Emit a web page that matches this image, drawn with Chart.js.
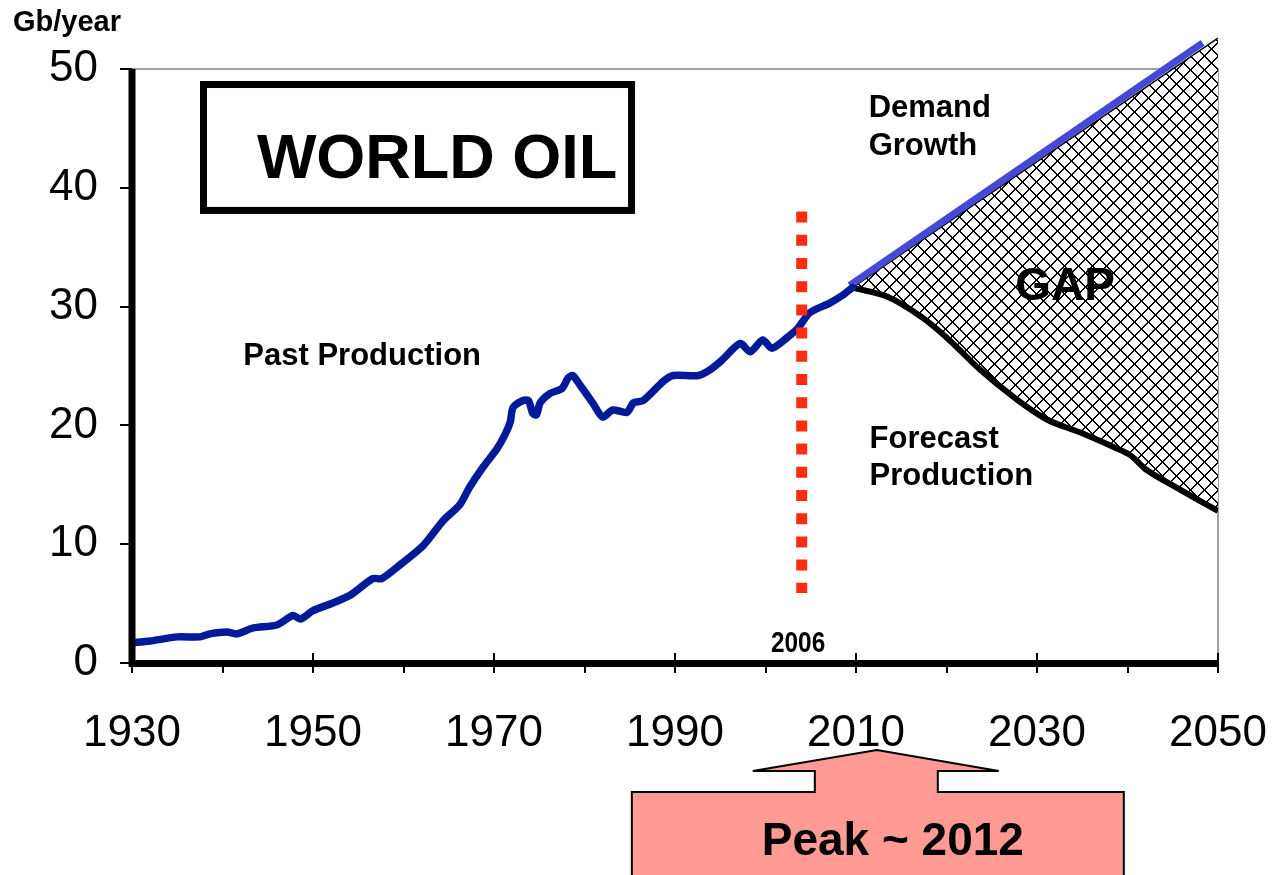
<!DOCTYPE html>
<html lang="en">
<head>
  <meta charset="UTF-8">
  <title>World Oil - Past and Forecast Production</title>
  <script src="https://cdn.jsdelivr.net/npm/chart.js"></script>
  <style>
    html, body { margin: 0; padding: 0; background: #fff; }
    #wrap { width: 1276px; height: 875px; }
  </style>
</head>
<body>
  <div id="wrap"><canvas id="oilChart" width="1276" height="875"></canvas></div>

  <script>
    // Past production (Gb/year)
    const pastYears = [1930, 1932, 1935, 1937.5, 1938.6, 1940.5, 1941.6, 1943.4, 1946, 1947.8, 1948.6, 1950,
      1952.2, 1954.1, 1956.6, 1957.6, 1959.6, 1962.2, 1964.4, 1966.2, 1967.3, 1968.8, 1970.3, 1971.2,
      1971.8, 1972.1, 1973.2, 1973.8, 1974.3, 1974.7, 1975.1, 1976.2, 1977.5, 1978.2, 1978.7, 1979.5,
      1980.9, 1982.0, 1983.1, 1984.7, 1985.4, 1986.5, 1988.7, 1989.8, 1992.6, 1993.9, 1995.2, 1997.2,
      1998.3, 1999.7, 2000.7, 2002.4, 2003.6, 2004.9, 2007.1, 2008.6, 2009.6];
    const pastValues = [1.7, 1.85, 2.2, 2.2, 2.45, 2.6, 2.45, 2.95, 3.2, 4.0, 3.7, 4.4,
      5.05, 5.7, 7.1, 7.1, 8.25, 9.9, 12.0, 13.3, 14.8, 16.5, 18.0, 19.2,
      20.3, 21.5, 22.1, 22.1, 21.0, 20.9, 21.9, 22.7, 23.1, 24.0, 24.2, 23.4,
      21.9, 20.7, 21.3, 21.1, 21.9, 22.1, 23.7, 24.2, 24.2, 24.7, 25.5, 26.9,
      26.2, 27.2, 26.5, 27.4, 28.2, 29.5, 30.3, 31.0, 31.6];

    // Forecast production after the peak
    const forecastYears = [2009.6, 2013.6, 2017.3, 2020.3, 2023.7, 2027.4, 2031.1, 2034.8, 2038.4, 2040.3, 2042.2, 2045.8, 2050];
    const forecastValues = [31.6, 30.8, 29.1, 27.2, 24.7, 22.4, 20.5, 19.4, 18.2, 17.5, 16.2, 14.6, 12.8];

    // Demand growth line and the upper edge of the gap
    const demandYears = [2009.3, 2048.3];
    const demandValues = [31.8, 52.2];
    const gapTopYears = [2009.6, 2050];
    const gapTopValues = [31.6, 52.6];
    const gapEdgeYears = [2050, 2050];
    const gapEdgeValues = [52.6, 12.8];

    // 2006 marker
    const markerYears = [2004, 2004];
    const markerValues = [38, 5.9];
    const peakYear = 2012.3;

    const xTickLabels = ['1930', '1950', '1970', '1990', '2010', '2030', '2050'];
    const yTickValues = [0, 10, 20, 30, 40, 50];

    const pts = (xs, ys) => xs.map((x, i) => ({ x: x, y: ys[i] }));

    Chart.defaults.font.family = '"Liberation Sans", Arial, Helvetica, sans-serif';
    Chart.defaults.color = '#000';

    // cross hatch for the gap
    function makeHatch(size) {
      const c = document.createElement('canvas');
      c.width = c.height = size;
      const g = c.getContext('2d');
      g.fillStyle = '#fff';
      g.fillRect(0, 0, size, size);
      g.fillStyle = '#000';
      for (let i = 0; i < size; i++) {
        g.fillRect(i, i, 1, 1);
        g.fillRect((i + 1) % size, i, 1, 1);
        g.fillRect(size - 1 - i, i, 1, 1);
        g.fillRect((size - i) % size, i, 1, 1);
      }
      return g.createPattern(c, 'repeat');
    }

    // drop the label padding chart.js adds so the plot area is exactly the layout box
    function noScalePadding(s) {
      s.paddingLeft = s.paddingRight = s.paddingTop = s.paddingBottom = 0;
    }

    // gray frame at 50 and 2050, under the data
    const frame = {
      id: 'frame',
      beforeDatasetsDraw(chart) {
        const { ctx, chartArea, scales: { x, y } } = chart;
        const top = y.getPixelForValue(50);
        const right = x.getPixelForValue(2050);
        ctx.save();
        ctx.strokeStyle = '#a0a0a0';
        ctx.lineWidth = 2;
        ctx.beginPath();
        ctx.moveTo(chartArea.left, top);
        ctx.lineTo(right, top);
        ctx.lineTo(right, chartArea.bottom);
        ctx.stroke();
        ctx.restore();
      }
    };

    // texts, boxes, y axis line, peak arrow
    const annotations = {
      id: 'annotations',
      afterDraw(chart) {
        const { ctx, chartArea, scales: { x, y } } = chart;
        const px = v => x.getPixelForValue(v);
        const py = v => y.getPixelForValue(v);
        ctx.save();

        // y axis line from 0 to 50
        ctx.strokeStyle = '#000';
        ctx.lineWidth = 7;
        ctx.beginPath();
        ctx.moveTo(chartArea.left, py(50));
        ctx.lineTo(chartArea.left, chartArea.bottom + 3.5);
        ctx.stroke();

        // major x ticks also cross above the axis
        ctx.lineWidth = 2;
        xTickLabels.forEach(t => {
          const p = px(Number(t));
          ctx.beginPath();
          ctx.moveTo(p, chartArea.bottom - 10);
          ctx.lineTo(p, chartArea.bottom);
          ctx.stroke();
        });

        ctx.fillStyle = '#000';
        ctx.textBaseline = 'alphabetic';
        ctx.textAlign = 'left';

        ctx.font = 'bold 29px "Liberation Sans", Arial, sans-serif';
        ctx.fillText('Gb/year', 13, 31);

        // WORLD OIL box
        ctx.lineWidth = 7;
        const bx1 = px(1937.9), bx2 = px(1985.2), by1 = py(48.7), by2 = py(38.1);
        ctx.strokeRect(bx1, by1, bx2 - bx1, by2 - by1);
        ctx.font = 'bold 63px "Liberation Sans", Arial, sans-serif';
        ctx.fillText('WORLD OIL', px(1943.8), py(40.8));

        ctx.font = 'bold 31px "Liberation Sans", Arial, sans-serif';
        ctx.fillText('Past Production', px(1942.3), py(25.1));
        ctx.fillText('Demand', px(2011.4), py(46.0));
        ctx.fillText('Growth', px(2011.4), py(42.8));
        ctx.fillText('Forecast', px(2011.5), py(18.1));
        ctx.fillText('Production', px(2011.5), py(15.0));

        ctx.font = 'bold 46px "Liberation Sans", Arial, sans-serif';
        ctx.fillText('GAP', px(2027.6), py(30.6));

        // condensed "2006"
        ctx.save();
        ctx.textAlign = 'center';
        ctx.font = 'bold 29px "Liberation Sans", Arial, sans-serif';
        ctx.translate(px(2003.6), py(0.93));
        ctx.scale(0.84, 1);
        ctx.fillText('2006', 0, 0);
        ctx.restore();

        // Peak arrow and box
        const tx = px(peakYear);
        const tipY = 750, headY = 771, boxY = 792, botY = 880;
        ctx.beginPath();
        ctx.moveTo(tx, tipY);
        ctx.lineTo(tx + 122, headY);
        ctx.lineTo(tx + 61, headY);
        ctx.lineTo(tx + 61, boxY);
        ctx.lineTo(tx + 247, boxY);
        ctx.lineTo(tx + 247, botY);
        ctx.lineTo(tx - 245, botY);
        ctx.lineTo(tx - 245, boxY);
        ctx.lineTo(tx - 62, boxY);
        ctx.lineTo(tx - 62, headY);
        ctx.lineTo(tx - 124, headY);
        ctx.closePath();
        ctx.fillStyle = '#ff9a94';
        ctx.fill();
        ctx.lineWidth = 2;
        ctx.strokeStyle = '#000';
        ctx.stroke();

        ctx.fillStyle = '#000';
        ctx.textAlign = 'center';
        ctx.font = 'bold 46px "Liberation Sans", Arial, sans-serif';
        ctx.fillText('Peak ~ 2012', tx + 16, 855);

        ctx.restore();
      }
    };

    const ctx = document.getElementById('oilChart').getContext('2d');
    new Chart(ctx, {
      type: 'line',
      data: {
        datasets: [
          {
            label: '2006',
            data: pts(markerYears, markerValues),
            borderColor: '#ff2d0f',
            borderWidth: 11,
            borderDash: [11, 12.2],
            borderCapStyle: 'butt',
            pointRadius: 0,
            fill: false
          },
          {
            label: 'Past Production',
            data: pts(pastYears, pastValues),
            borderColor: '#001a99',
            borderWidth: 7.5,
            borderJoinStyle: 'round',
            borderCapStyle: 'round',
            tension: 0.25,
            pointRadius: 0,
            fill: false
          },
          {
            label: 'Forecast Production',
            data: pts(forecastYears, forecastValues),
            borderColor: '#000',
            borderWidth: 6,
            borderJoinStyle: 'round',
            tension: 0.35,
            pointRadius: 0,
            fill: false
          },
          {
            label: 'Demand Growth',
            data: pts(demandYears, demandValues),
            borderColor: '#4649d6',
            borderWidth: 7,
            borderCapStyle: 'butt',
            pointRadius: 0,
            fill: false
          },
          {
            label: 'Gap',
            data: pts(gapTopYears, gapTopValues),
            borderColor: '#000',
            borderWidth: 1.5,
            backgroundColor: makeHatch(14),
            pointRadius: 0,
            fill: 2
          },
          {
            label: 'Gap edge',
            data: pts(gapEdgeYears, gapEdgeValues),
            borderColor: '#000',
            borderWidth: 1.5,
            pointRadius: 0,
            fill: false
          }
        ]
      },
      options: {
        responsive: false,
        animation: false,
        layout: { padding: { top: 37, right: 58, left: 0, bottom: 0 } },
        plugins: {
          legend: { display: false },
          tooltip: { enabled: false }
        },
        scales: {
          x: {
            type: 'linear',
            min: 1930,
            max: 2050,
            afterFit: s => { s.height = 212; noScalePadding(s); },
            border: { display: true, color: '#000', width: 7 },
            grid: { drawOnChartArea: false, drawTicks: true, tickLength: 10, color: '#000', lineWidth: 2 },
            ticks: {
              stepSize: 10,
              autoSkip: false,
              maxRotation: 0,
              padding: 34,
              color: '#000',
              font: { size: 44 },
              callback: v => xTickLabels.includes(String(v)) ? String(v) : ''
            }
          },
          y: {
            min: 0,
            max: 52.7,
            afterFit: s => { s.width = 132; noScalePadding(s); },
            afterBuildTicks: s => { s.ticks = yTickValues.map(v => ({ value: v })); },
            border: { display: false },
            grid: { drawOnChartArea: false, drawTicks: true, tickLength: 12, color: '#000', lineWidth: 2 },
            ticks: {
              padding: 22,
              color: '#000',
              font: { size: 44 },
              callback: v => String(v)
            }
          }
        }
      },
      plugins: [frame, annotations]
    });
  </script>
</body>
</html>
